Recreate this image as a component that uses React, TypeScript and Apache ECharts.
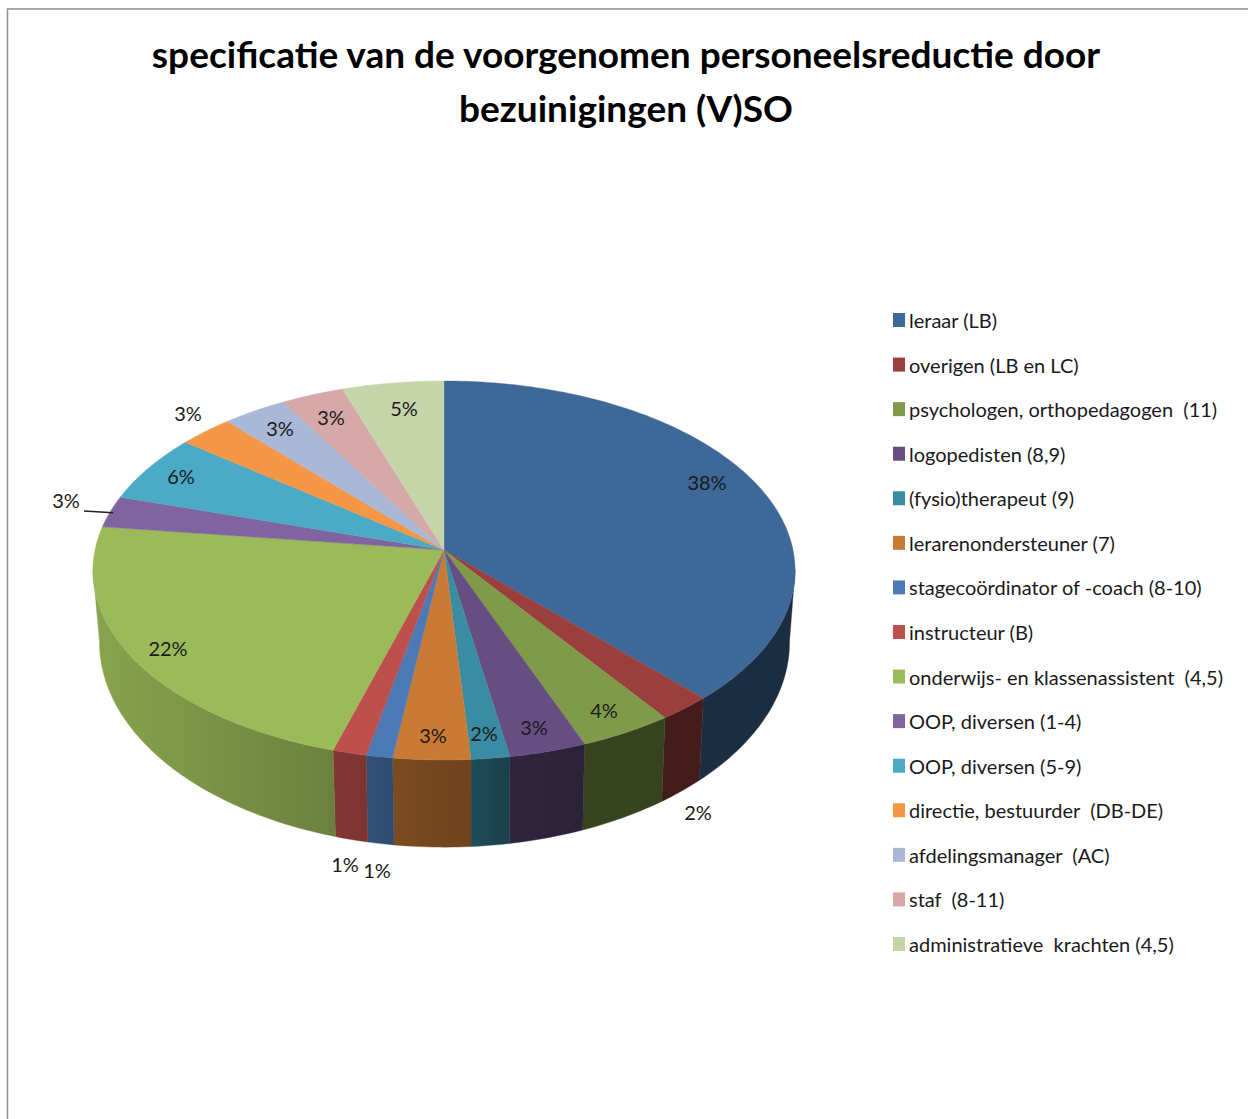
import React, { useEffect, useRef } from "react";
import * as echarts from "echarts";

const TITLE = "specificatie van de voorgenomen personeelsreductie door\nbezuinigingen (V)SO";
const CATEGORIES = [
  "leraar (LB)",
  "overigen (LB en LC)",
  "psychologen, orthopedagogen  (11)",
  "logopedisten (8,9)",
  "(fysio)therapeut (9)",
  "lerarenondersteuner (7)",
  "stagecoördinator of -coach (8-10)",
  "instructeur (B)",
  "onderwijs- en klassenassistent  (4,5)",
  "OOP, diversen (1-4)",
  "OOP, diversen (5-9)",
  "directie, bestuurder  (DB-DE)",
  "afdelingsmanager  (AC)",
  "staf  (8-11)",
  "administratieve  krachten (4,5)",
];
const VALUES = [38.0, 2.2, 3.9, 3.2, 1.6, 3.2, 1.1, 1.4, 22.4, 2.7, 5.8, 2.8, 3.3, 3.2, 5.2];
const COLORS = [
  "#3e6898", "#9a3f3d", "#7f9a48", "#664e82", "#3a8ca3",
  "#c97a35", "#4d7ab5", "#bd4f4c", "#9bba59", "#8064a0",
  "#4baac5", "#f59746", "#a8b8d6", "#d7a8a8", "#c6d4a9",
];
// layout only: centre of each percentage label, in page pixels
const LABEL_XY = [
  [707, 482], [698, 812], [604, 710], [534, 727], [484, 733],
  [433, 735], [377, 870], [345, 864], [168, 648], [66, 500],
  [181, 476], [188, 413], [280, 428], [331, 417], [404, 408],
];
const LEADER_INDEX = 9;
const LEADER_START = [84, 511];

const TOP = { cx: 444, cy: 550, a: 349, b: 187.3, p: 0.108 };
const BOTTOM = { cx: 444.5, cy: 620, a: 343, b: 202.6, p: 0.108 };
const SIDE_FROM = 96;
const SIDE_TO = 264;
const SHADE_STOPS = [
  [96, 0.88], [336, 0.69], [392, 0.62], [470, 0.55], [510, 0.46], [585, 0.43], [800, 0.43],
];
const FONT = "Lato, 'Open Sans', sans-serif";

const total = VALUES.reduce((s, v) => s + v, 0);
const starts: number[] = [];
VALUES.reduce((acc, v, i) => {
  starts[i] = acc;
  return acc + v;
}, 0);

function project(g: typeof TOP, deg: number): [number, number] {
  const t = (deg * Math.PI) / 180;
  const u = Math.sin(t);
  const v = -Math.cos(t);
  const w = 1 - g.p * v;
  return [g.cx + (g.a * u) / w, g.cy + (g.b * v) / w];
}

function arc(g: typeof TOP, from: number, to: number): [number, number][] {
  const n = Math.max(2, Math.ceil(Math.abs(to - from)));
  const pts: [number, number][] = [];
  for (let k = 0; k <= n; k++) pts.push(project(g, from + ((to - from) * k) / n));
  return pts;
}

function shadeAt(x: number) {
  for (let k = 1; k < SHADE_STOPS.length; k++) {
    const [x0, s0] = SHADE_STOPS[k - 1];
    const [x1, s1] = SHADE_STOPS[k];
    if (x <= x1) return s0 + ((s1 - s0) * Math.max(0, x - x0)) / (x1 - x0);
  }
  return SHADE_STOPS[SHADE_STOPS.length - 1][1];
}

function darken(hex: string, f: number) {
  const n = parseInt(hex.slice(1), 16);
  const c = [(n >> 16) & 255, (n >> 8) & 255, n & 255].map((v) => Math.round(v * f));
  return `rgb(${c[0]},${c[1]},${c[2]})`;
}

function renderSlice(i: number) {
  return (_params: any, api: any) => {
    const value = api.value(0);
    const from = (starts[i] / total) * 360;
    const to = from + (value / total) * 360;
    const color = COLORS[i];
    const children: any[] = [];

    const sFrom = Math.max(from, SIDE_FROM);
    const sTo = Math.min(to, SIDE_TO);
    if (sTo > sFrom) {
      const topArc = arc(TOP, sFrom, sTo);
      const botArc = arc(BOTTOM, sFrom, sTo);
      const xs = [...topArc, ...botArc].map((p) => p[0]);
      const xMin = Math.min(...xs);
      const xMax = Math.max(...xs);
      const stops = [];
      for (let k = 0; k <= 8; k++) {
        const x = xMin + ((xMax - xMin) * k) / 8;
        stops.push({ offset: k / 8, color: darken(color, shadeAt(x)) });
      }
      const fill = new echarts.graphic.LinearGradient(0, 0, 1, 0, stops);
      children.push({
        type: "polygon",
        z2: 1,
        shape: { points: [...topArc, ...botArc.reverse()] },
        style: { fill, stroke: fill, lineWidth: 0.4 },
      });
    }

    children.push({
      type: "polygon",
      z2: 2,
      shape: { points: [[TOP.cx, TOP.cy], ...arc(TOP, from, to)] },
      style: { fill: color, stroke: color, lineWidth: 0.4 },
    });

    if (i === LEADER_INDEX) {
      const end = project(TOP, (from + to) / 2);
      children.push({
        type: "line",
        z2: 3,
        shape: { x1: LEADER_START[0], y1: LEADER_START[1], x2: end[0] + 3, y2: end[1] + 1 },
        style: { stroke: "#222222", lineWidth: 1.6 },
      });
    }

    children.push({
      type: "text",
      z2: 3,
      style: {
        text: `${Math.round(value)}%`,
        x: LABEL_XY[i][0],
        y: LABEL_XY[i][1],
        align: "center",
        verticalAlign: "middle",
        fill: "#1a1a1a",
        font: `400 20px ${FONT}`,
      },
    });

    return { type: "group", children };
  };
}

export default function App() {
  const ref = useRef<HTMLDivElement>(null);
  useEffect(() => {
    document.body.style.margin = "0";
    const chart = echarts.init(ref.current!, undefined, { renderer: "svg" });
    chart.setOption({
      animation: false,
      backgroundColor: "#ffffff",
      title: {
        text: TITLE,
        left: 626,
        top: 26,
        padding: 0,
        textAlign: "center",
        textStyle: {
          fontFamily: FONT,
          fontWeight: 700,
          fontSize: 37,
          lineHeight: 54,
          color: "#000000",
        },
      },
      legend: {
        orient: "vertical",
        left: 893,
        top: 307,
        icon: "rect",
        itemWidth: 12,
        itemHeight: 14,
        itemGap: 18.57,
        selectedMode: false,
        padding: 0,
        data: CATEGORIES,
        textStyle: {
          fontFamily: FONT,
          fontSize: 20,
          lineHeight: 24,
          color: "#1a1a1a",
          padding: [0, 0, 2, -1],
        },
      },
      graphic: [
        {
          type: "polyline",
          silent: true,
          shape: { points: [[7.5, 1119], [7.5, 9], [1248, 9]] },
          style: { stroke: "#8f8f8f", lineWidth: 1.5, fill: "none" },
        },
      ],
      series: CATEGORIES.map((name, i) => ({
        type: "custom",
        name,
        coordinateSystem: "none",
        silent: true,
        itemStyle: { color: COLORS[i] },
        data: [VALUES[i]],
        renderItem: renderSlice(i),
      })),
    });
    return () => chart.dispose();
  }, []);
  return <div ref={ref} style={{ width: 1248, height: 1119 }} />;
}
